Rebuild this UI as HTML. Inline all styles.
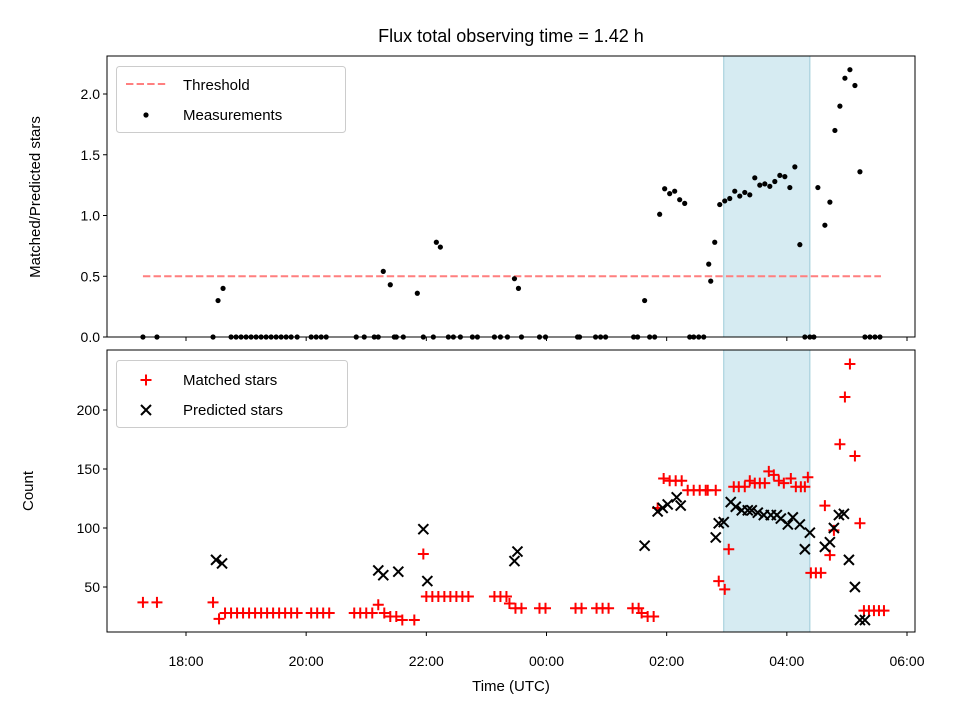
<!DOCTYPE html>
<html><head><meta charset="utf-8"><style>
body{margin:0;background:#fff}
svg text{font-family:"Liberation Sans","DejaVu Sans",sans-serif;fill:#000}
</style></head><body>
<svg id="c" width="960" height="720" viewBox="0 0 960 720" xmlns="http://www.w3.org/2000/svg">
<rect width="960" height="720" fill="#fff"/>
</svg>
<script>
// minutes relative to 18:00 UTC
const ratioTimes=[-43,-29,27,32,37,45,50,55,60,65,70,75,80,85,90,95,100,105,111,125,130,135,140,170,178,188,192,197,204,208,210,217,231,237,247,250,254,262,267,274,286,291,308,314,321,328,332,335,353,359,391,393,409,414,419,447,451,458,463,468,473,478,483,488,493,498,503,507,512,517,522,524,528,533,538,543,548,553,558,563,568,573,578,583,588,593,598,603,608,613,618,623,627,631,638,643,648,653,658,663,668,673,678,683,688,693];
const ratioValues=[0,0,0,0.30,0.40,0,0,0,0,0,0,0,0,0,0,0,0,0,0,0,0,0,0,0,0,0,0,0.54,0.43,0,0,0,0.36,0,0,0.78,0.74,0,0,0,0,0,0,0,0,0.48,0.40,0,0,0,0,0,0,0,0,0,0,0.30,0,0,1.01,1.22,1.18,1.20,1.13,1.10,0,0,0,0,0.60,0.46,0.78,1.09,1.12,1.14,1.20,1.16,1.19,1.17,1.31,1.25,1.26,1.24,1.28,1.33,1.32,1.23,1.40,0.76,0,0,0,1.23,0.92,1.11,1.70,1.90,2.13,2.20,2.07,1.36,0,0,0,0];
const matchedTimes=[-43,-29,27,33,39,45,51,57,63,69,75,81,87,93,99,105,111,125,131,137,143,168,174,180,186,192,198,204,210,216,228,237,240,246,252,258,264,270,276,282,308,314,320,323,329,335,353,359,389,395,410,416,422,446,452,455,461,467,471,477,483,489,495,501,507,513,519,521,529,532,538,542,547,552,558,563,568,573,578,582,587,592,597,604,609,614,618,621,624,629,634,638,643,647,653,658,663,668,673,677,682,687,692,697];
const matchedValues=[37,37,37,23,28,28,28,28,28,28,28,28,28,28,28,28,28,28,28,28,28,28,28,28,28,35,28,25,25,22,22,78,42,42,42,42,42,42,42,42,42,42,42,36,32,32,32,32,32,32,32,32,32,32,32,28,25,25,117,142,140,140,140,132,132,132,132,132,132,55,48,82,135,135,135,140,138,138,138,148,145,140,138,142,135,135,135,143,62,62,62,119,77,98,171,211,239,161,104,30,30,30,30,30];
const predictedTimes=[30,36,192,197,212,237,241,328,331,458,471,476,481,490,494,529,532,537,544,549,555,561,565,571,577,584,590,594,601,606,613,618,623,638,643,647,652,657,662,668,673,678];
const predictedValues=[73,70,64,60,63,99,55,72,80,85,114,117,120,126,119,92,104,105,122,118,115,115,115,113,111,111,111,108,103,109,103,82,96,84,88,100,111,112,73,50,22,22];
const thresholdValue=0.5;
const thresholdRange=[-43,694];
const shadeRange=[537,623];
const xTickLabels=["18:00","20:00","22:00","00:00","02:00","04:00","06:00"];
const xTickMinutes=[0,120,240,360,480,600,720];
const topTicks=[0,0.5,1.0,1.5,2.0];
const topTickLabels=["0.0","0.5","1.0","1.5","2.0"];
const botTicks=[50,100,150,200];
const botTickLabels=["50","100","150","200"];

const svg=document.getElementById('c');
const NS="http://www.w3.org/2000/svg";
function mk(tag,attrs,parent){const e=document.createElementNS(NS,tag);for(const k in attrs)e.setAttribute(k,attrs[k]);(parent||svg).appendChild(e);return e;}
const L=107,R=915,T1=56,B1=337,T2=350,B2=632;
const x=m=>186+m*(907-186)/720;
const yTop=v=>337-v*121.5;
const yBot=v=>587-(v-50)*1.18;

[[T1,B1],[T2,B2]].forEach(([t,b],i)=>{
 const r=mk('rect',{x:x(shadeRange[0]),y:t,width:x(shadeRange[1])-x(shadeRange[0]),height:b-t,fill:'#add8e6','fill-opacity':0.5,stroke:'#9ccbd8','stroke-width':1});
 
 
});

const th=mk('line',{x1:x(thresholdRange[0]),x2:x(thresholdRange[1]),y1:yTop(thresholdValue),y2:yTop(thresholdValue),stroke:'#ff7f7f','stroke-width':2,'stroke-dasharray':'7.4,3.2'});



const gm=mk('g',{});


ratioTimes.forEach((t,i)=>{
 const c=mk('circle',{cx:x(t),cy:yTop(ratioValues[i]),r:2.6,fill:'#000'},gm);
 
 
});

const gr=mk('g',{stroke:'#f00','stroke-width':2});


matchedTimes.forEach((t,i)=>{
 const cx=x(t),cy=yBot(matchedValues[i]);
 const p=mk('path',{d:`M${cx-5.5},${cy}H${cx+5.5}M${cx},${cy-5.5}V${cy+5.5}`},gr);
 
 
});
const gp=mk('g',{stroke:'#000','stroke-width':2});


predictedTimes.forEach((t,i)=>{
 const cx=x(t),cy=yBot(predictedValues[i]),d=5;
 const p=mk('path',{d:`M${cx-d},${cy-d}L${cx+d},${cy+d}M${cx-d},${cy+d}L${cx+d},${cy-d}`},gp);
 
 
});

[[T1,B1,'top'],[T2,B2,'bottom']].forEach(([t,b,n])=>{
 const r=mk('rect',{x:L,y:t,width:R-L,height:b-t,fill:'none',stroke:'#000','stroke-width':1});
 
 
 xTickMinutes.forEach(m=>{mk('line',{x1:x(m),x2:x(m),y1:b,y2:b+4,stroke:'#000'});});
});
xTickMinutes.forEach((m,i)=>{
 const tx=mk('text',{x:x(m),y:666,'font-size':14,'text-anchor':'middle'});
 tx.textContent=xTickLabels[i];
 
 
});
topTicks.forEach((v,i)=>{
 mk('line',{x1:L-4,x2:L,y1:yTop(v),y2:yTop(v),stroke:'#000'});
 const tx=mk('text',{x:L-7,y:yTop(v)+5,'font-size':14,'text-anchor':'end'});
 tx.textContent=topTickLabels[i];
 
 
});
botTicks.forEach((v,i)=>{
 mk('line',{x1:L-4,x2:L,y1:yBot(v),y2:yBot(v),stroke:'#000'});
 const tx=mk('text',{x:L-7,y:yBot(v)+5,'font-size':14,'text-anchor':'end'});
 tx.textContent=botTickLabels[i];
 
 
});
</script>
<svg width="960" height="720" style="position:absolute;left:0;top:0" xmlns="http://www.w3.org/2000/svg">
<text x="511" y="42" font-size="18" text-anchor="middle">Flux total observing time = 1.42 h</text>
<text x="511" y="691" font-size="15" text-anchor="middle">Time (UTC)</text>
<text transform="translate(40,197) rotate(-90)" font-size="15" text-anchor="middle">Matched/Predicted stars</text>
<text transform="translate(33,491) rotate(-90)" font-size="15" text-anchor="middle">Count</text>
<g>
<rect x="116.5" y="66.5" width="229" height="66" rx="3" fill="#fff" fill-opacity="0.8" stroke="#ccc"/>
<line x1="126" x2="166" y1="84" y2="84" stroke="#ff7f7f" stroke-width="2" stroke-dasharray="7.4,3.2"/>
<text x="183" y="90" font-size="15">Threshold</text>
<circle cx="146" cy="115" r="2.6" fill="#000"/>
<text x="183" y="120" font-size="15">Measurements</text>
</g>
<g>
<rect x="116.5" y="360.5" width="231" height="67" rx="3" fill="#fff" fill-opacity="0.8" stroke="#ccc"/>
<path d="M140.5,380H151.5M146,374.5V385.5" stroke="#f00" stroke-width="2"/>
<text x="183" y="385" font-size="15">Matched stars</text>
<path d="M141,405L151,415M141,415L151,405" stroke="#000" stroke-width="2"/>
<text x="183" y="415" font-size="15">Predicted stars</text>
</g>
</svg>
</body></html>
